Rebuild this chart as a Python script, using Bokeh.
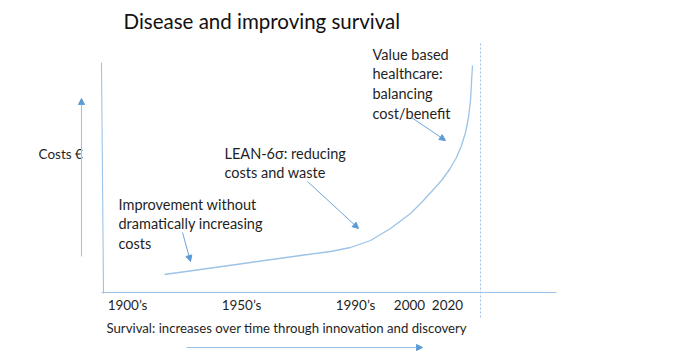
from bokeh.plotting import figure
from bokeh.models import Range1d, Arrow, NormalHead
from bokeh.core.properties import value
from bokeh.embed import file_html
from bokeh.resources import INLINE

# ---- data (chart units: x = time/survival, y = cost; origin at axis corner) ----
curve_x = [63, 99, 149, 199, 229, 249, 269, 289, 309, 321, 331, 340, 348, 355, 360, 364, 367, 369, 370, 371]
curve_y = [18, 23, 30, 37, 41, 45, 52, 64, 79, 91, 102, 112, 123, 135, 147, 160, 175, 192, 210, 227]

tick_pos = [26, 140, 254, 308, 346]
tick_labels = ["1900\u2019s", "1950\u2019s", "1990\u2019s", "2000", "2020"]

title = "Disease and improving survival"
y_label = "Costs \u20ac"
x_label = "Survival: increases over time through innovation and discovery"

notes = ["Improvement without\ndramatically increasing\ncosts",
         "LEAN-6\u03c3: reducing\ncosts and waste",
         "Value based\nhealthcare:\nbalancing\ncost/benefit"]
note_x = [17, 123, 271]
note_y = [97, 148, 247]
note_arrow_start = [(81, 60), (206, 111), (310, 175)]
note_arrow_end = [(89, 31), (257, 64), (344, 152)]

FONT = "Lato"
AXIS_C = "#9DC3E6"
ARROW_C = "#5B9BD5"
TEXT_C = "#1f1f1f"

p = figure(width=696, height=352, x_range=Range1d(-101, 595), y_range=Range1d(-60, 292),
           output_backend="svg", toolbar_location=None, min_border=0)
p.axis.visible = False
p.grid.visible = False
p.outline_line_color = None

# axes
p.line([0, 2], [230, -1], line_color=AXIS_C, line_width=1.1)
p.line([0, 455], [0, 0], line_color=AXIS_C, line_width=1.1)
# dotted marker line
p.line([379, 379], [249, -26], line_color=AXIS_C, line_width=1, line_dash="2 2")

# cost curve
p.line(curve_x, curve_y, line_color=AXIS_C, line_width=1.3, line_join="round")

# direction arrows
p.add_layout(Arrow(x_start=-20, y_start=36, x_end=-20, y_end=194, line_color=AXIS_C, line_width=1.1,
                   end=NormalHead(size=6, fill_color=ARROW_C, line_color=ARROW_C)))
p.add_layout(Arrow(x_start=85, y_start=-55, x_end=321, y_end=-55, line_color=AXIS_C, line_width=1.1,
                   end=NormalHead(size=6, fill_color=ARROW_C, line_color=ARROW_C)))

for (xs, ys), (xe, ye) in zip(note_arrow_start, note_arrow_end):
    p.add_layout(Arrow(x_start=xs, y_start=ys, x_end=xe, y_end=ye, line_color=ARROW_C, line_width=0.9,
                       end=NormalHead(size=6, fill_color=ARROW_C, line_color=ARROW_C)))

# texts
p.text(x=[22], y=[272], text=[title], text_font=value(FONT), text_font_size="20.5px",
       text_color="#111111", text_baseline="middle")
p.text(x=[-63], y=[139], text=[y_label], text_font=value(FONT), text_font_size="13.5px",
       text_color=TEXT_C, text_baseline="middle")
p.text(x=tick_pos, y=[-12] * len(tick_pos), text=tick_labels, text_font=value(FONT),
       text_font_size="13.5px", text_color=TEXT_C, text_baseline="middle", text_align="center")
p.text(x=[5], y=[-35], text=[x_label], text_font=value(FONT), text_font_size="13.2px",
       text_color=TEXT_C, text_baseline="middle")
p.text(x=note_x, y=note_y, text=notes, text_font=value(FONT), text_font_size="14.5px",
       text_color=TEXT_C, text_baseline="top", text_line_height=1.17)

open("out.html", "w").write(file_html(p, INLINE))
